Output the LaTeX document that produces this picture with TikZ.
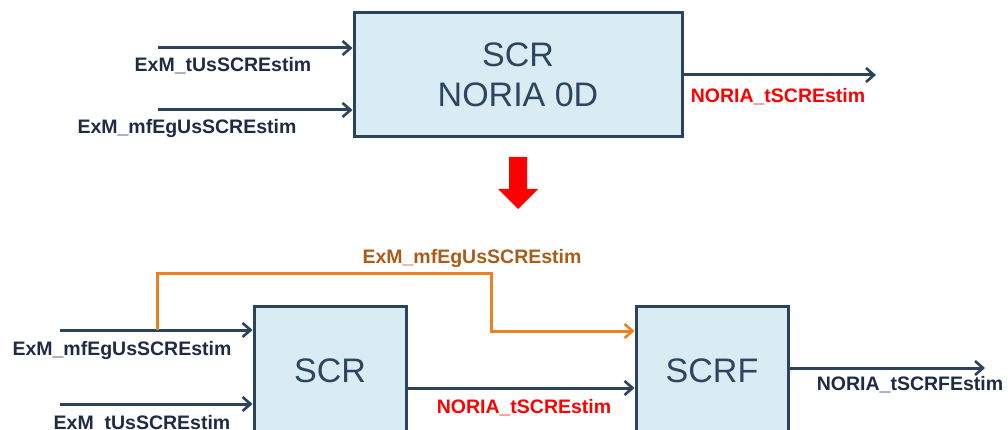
\documentclass[tikz,border=0pt]{standalone}
\usepackage{fontspec}
\setmainfont{Liberation Sans}
\usetikzlibrary{arrows.meta}

\definecolor{navy}{HTML}{2C435E}
\definecolor{boxfill}{HTML}{DAECF3}
\definecolor{boxtext}{HTML}{2C4560}
\definecolor{labeltext}{HTML}{1E2B45}
\definecolor{sigorange}{HTML}{E9821F}
\definecolor{orangetext}{HTML}{A95C17}
\definecolor{alertred}{HTML}{FF0000}

\begin{document}
\begin{tikzpicture}[x=1pt,y=-1pt,
  block/.style={draw=navy, line width=3pt, fill=boxfill, text=boxtext,
    font=\fontsize{34}{40}\selectfont, inner sep=0pt, align=center},
  sig/.style={draw=navy, line width=3pt,
    -{Straight Barb[length=8pt,width=14pt,line width=2.6pt]}},
  osig/.style={draw=sigorange, line width=3pt,
    -{Straight Barb[length=8pt,width=14pt,line width=2.6pt]}},
  lbl/.style={font=\fontsize{19.5}{22}\selectfont\bfseries, text=labeltext,
    inner sep=0pt, anchor=base},
  redlbl/.style={lbl, text=alertred},
  orlbl/.style={lbl, text=orangetext}]

\useasboundingbox (0,0) rectangle (1008,430);
\clip (0,0) rectangle (1008,430);

% ---- single model block ----
\node[block, minimum width=328pt, minimum height=124pt] (nor) at (518,75) {SCR\\NORIA 0D};

\coordinate (a1) at (158,48);
\coordinate (a2) at (158,110);
\coordinate (o1) at (876,75);
\draw[sig] (a1) -- (a1 -| nor.west);
\draw[sig] (a2) -- (a2 -| nor.west);
\draw[sig] (nor.east) -- (nor.east -| o1);

\node[lbl] (la1) at (223,72) {ExM\_tUsSCREstim};
\node[lbl] (la2) at (187,134) {ExM\_mfEgUsSCREstim};
\node[redlbl] (lo1) at (778,103) {NORIA\_tSCREstim};

% ---- transition arrow ----
\fill[alertred] (509,157) -- (527,157) -- (527,189) -- (538,189)
  -- (518,209) -- (498,189) -- (509,189) -- cycle;

% ---- split into two blocks ----
\node[block, minimum width=152pt, minimum height=130pt] (scr) at (330,371) {SCR};
\node[block, minimum width=152pt, minimum height=130pt] (scrf) at (712,371) {SCRF};

\coordinate (b1) at (60,330);
\coordinate (b2) at (60,404);
\draw[sig] (b1) -- (b1 -| scr.west);
\draw[sig] (b2) -- (b2 -| scr.west);

\coordinate (tap) at (157,330);
\coordinate (over) at (491,273);
\coordinate (oin) at (491,331);
\draw[osig] (tap) |- (over) -- (oin) -- (oin -| scrf.west);

\coordinate (m) at (0,388);
\draw[sig] (scr.east |- m) -- (scrf.west |- m);

\coordinate (o2) at (985,368);
\draw[sig] (scrf.east |- o2) -- (o2);

\node[lbl] (lb1) at (122,355) {ExM\_mfEgUsSCREstim};
\node[lbl] (lb2) at (142,429) {ExM\_tUsSCREstim};
\node[orlbl] (lor) at (472,263) {ExM\_mfEgUsSCREstim};
\node[redlbl] (lm) at (524,413) {NORIA\_tSCREstim};
\node[lbl] (lo2) at (910,390) {NORIA\_tSCRFEstim};

\end{tikzpicture}
\end{document}
